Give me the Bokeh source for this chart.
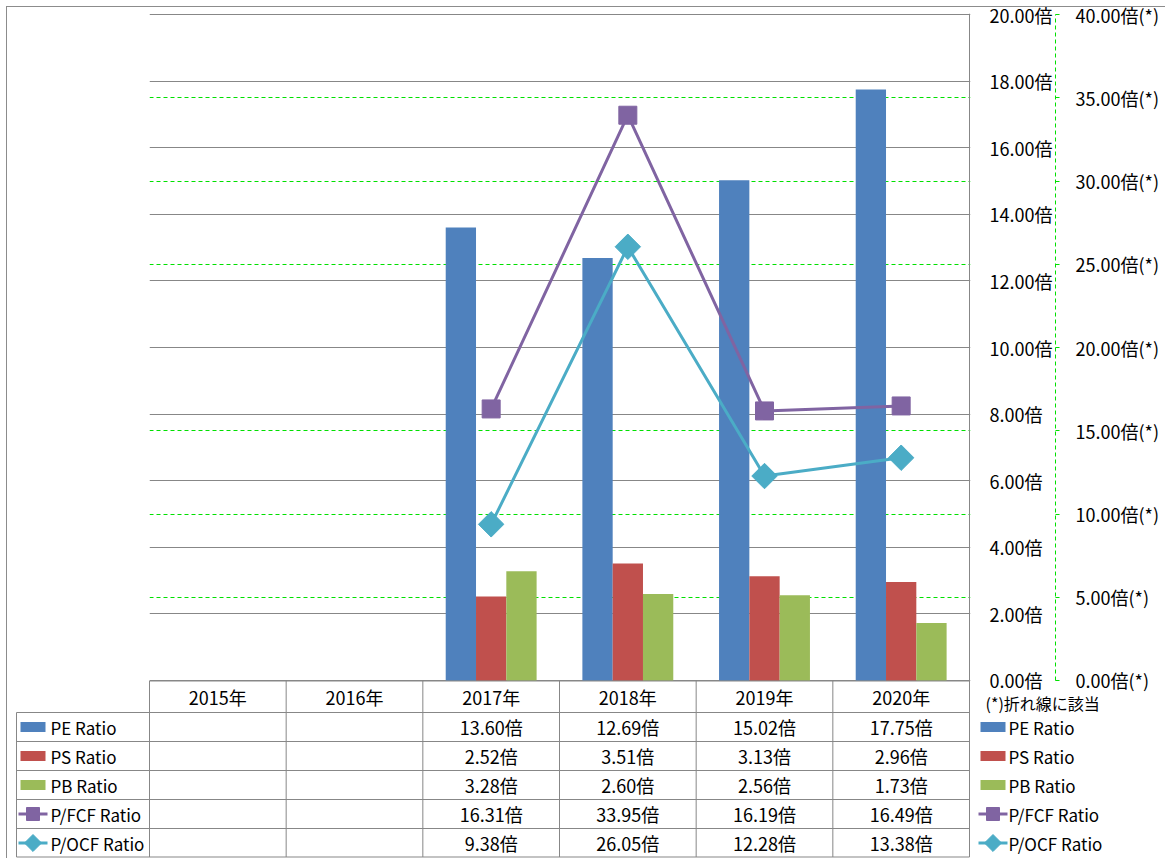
import math
from bokeh.plotting import figure
from bokeh.models import Range1d, LinearAxis, FixedTicker, PrintfTickFormatter, Grid, Div
from bokeh.core.properties import value
from bokeh.embed import file_html
from bokeh.resources import INLINE

# ---------------- data ----------------
years = ["2015年", "2016年", "2017年", "2018年", "2019年", "2020年"]
pe_ratio = [None, None, 13.60, 12.69, 15.02, 17.75]
ps_ratio = [None, None, 2.52, 3.51, 3.13, 2.96]
pb_ratio = [None, None, 3.28, 2.60, 2.56, 1.73]
pfcf_ratio = [None, None, 16.31, 33.95, 16.19, 16.49]
pocf_ratio = [None, None, 9.38, 26.05, 12.28, 13.38]
series_names = ["PE Ratio", "PS Ratio", "PB Ratio", "P/FCF Ratio", "P/OCF Ratio"]
series_colors = ["#4F81BD", "#C0504D", "#9BBB59", "#8064A2", "#4BACC6"]
left_ticks = [0, 2, 4, 6, 8, 10, 12, 14, 16, 18, 20]
right_ticks = [0, 5, 10, 15, 20, 25, 30, 35, 40]
right_grid = [5, 10, 15, 25, 30, 35]
note_text = "(*)折れ線に該当"

# ---------------- layout constants ----------------
FONTNAME = "Noto Sans CJK JP"
FONT = value(FONTNAME)
FS = "18px"        # numbers / headers / axis labels
FS_NAME = "17px"   # series names
GRAY = "#878787"
GREEN = "#00E000"
W = 1165
COL = 820 / 6.0          # px per category column
LEFT = 149               # plot area left (px)
PPU = 666 / 20.0         # px per left-axis unit
px = 1.0 / COL           # one pixel in x data units
TOP_H = 692
TABLE_TOP = 680
TABLE_H = 178
HEAD_H = 32
RH = 29

# ---------------- chart ----------------
p = figure(frame_width=821, frame_height=668,
           min_border_left=LEFT, min_border_top=13, min_border_bottom=TOP_H - 13 - 668,
           min_border_right=W - LEFT - 821,
           x_range=Range1d(0, 6 + px), y_range=Range1d(-1 / PPU, 20 + 1 / PPU),
           x_axis_location=None, y_axis_location=None,
           output_backend="svg", toolbar_location=None)
for g in list(p.center):
    if isinstance(g, Grid):
        g.visible = False
p.outline_line_color = None
p.border_fill_color = None
p.extra_y_ranges = {"r": Range1d(-2 / PPU, 40 + 2 / PPU)}
p.styles = {"position": "absolute", "left": "0px", "top": "0px"}

ax1 = LinearAxis(ticker=FixedTicker(ticks=left_ticks),
                 formatter=PrintfTickFormatter(format="%.2f倍"))
ax1.axis_line_color = None
ax1.major_tick_line_color = None
ax1.minor_tick_line_color = None
ax1.major_tick_out = 0
ax1.major_tick_in = 0
ax1.major_label_standoff = 19
ax1.major_label_text_font = FONTNAME
ax1.major_label_text_font_size = FS
ax1.major_label_text_color = "black"
p.add_layout(ax1, "right")

ax2 = LinearAxis(y_range_name="r", ticker=FixedTicker(ticks=right_ticks),
                 formatter=PrintfTickFormatter(format="%.2f倍(*)"), bounds=(0, 40))
ax2.axis_line_color = GREEN
ax2.axis_line_dash = "4 3"
ax2.major_tick_line_color = GREEN
ax2.major_tick_out = 4
ax2.major_tick_in = 0
ax2.minor_tick_line_color = None
ax2.major_label_standoff = 16
ax2.major_label_text_font = FONTNAME
ax2.major_label_text_font_size = FS
ax2.major_label_text_color = "black"
p.add_layout(ax2, "right")

g1 = Grid(dimension=1, ticker=FixedTicker(ticks=left_ticks), grid_line_color=GRAY)
g2 = Grid(dimension=1, y_range_name="r", ticker=FixedTicker(ticks=right_grid),
          grid_line_color=GREEN, grid_line_dash="4 3")
p.add_layout(g1)
p.add_layout(g2)

# bars (left axis)
bw = 30.3 / COL
for k, ser in enumerate([pe_ratio, ps_ratio, pb_ratio]):
    xs = [i + 0.5 + (k - 1) * bw for i, v in enumerate(ser) if v is not None]
    ts = [v for v in ser if v is not None]
    p.vbar(x=xs, top=ts, bottom=0, width=bw, fill_color=series_colors[k], line_color=None)

# lines (right axis)
for k, ser, ang in [(3, pfcf_ratio, 0.0), (4, pocf_ratio, math.pi / 4)]:
    xs = [i + 0.5 for i, v in enumerate(ser) if v is not None]
    ys = [v for v in ser if v is not None]
    p.line(xs, ys, y_range_name="r", line_color=series_colors[k], line_width=3)
    p.scatter(xs, ys, y_range_name="r", marker="square", size=18, angle=ang,
              fill_color=series_colors[k], line_color=series_colors[k])

# right border of the plot area
p.segment(x0=[6], y0=[0], x1=[6], y1=[20 + 1 / PPU], line_color=GRAY, line_width=1)

# ---------------- data table ----------------
q = figure(width=W, height=TABLE_H, min_border=0,
           x_range=Range1d(-LEFT / COL, (W - LEFT) / COL), y_range=Range1d(TABLE_H, 0),
           x_axis_location=None, y_axis_location=None,
           output_backend="svg", toolbar_location=None)
for g in list(q.center):
    if isinstance(g, Grid):
        g.visible = False
q.outline_line_color = None
q.border_fill_color = None
q.background_fill_color = None
q.styles = {"position": "absolute", "left": "0px", "top": f"{TABLE_TOP}px"}

xl = (16 - LEFT) / COL
nrows = len(series_names)
# header top line
q.segment(x0=[0], y0=[0.5], x1=[6], y1=[0.5], line_color=GRAY, line_width=1)
# row lines
rows_y = [HEAD_H + r * RH for r in range(nrows)] + [min(TABLE_H - 1.5, HEAD_H + nrows * RH)]
q.segment(x0=[xl] * len(rows_y), y0=rows_y, x1=[6] * len(rows_y), y1=rows_y,
          line_color=GRAY, line_width=1)
# column lines
vx = [float(i) for i in range(7)]
q.segment(x0=vx, y0=[0] * 7, x1=vx, y1=[rows_y[-1]] * 7, line_color=GRAY, line_width=1)
q.segment(x0=[xl], y0=[HEAD_H], x1=[xl], y1=[rows_y[-1]], line_color=GRAY, line_width=1)

# header labels
q.text(x=[i + 0.5 for i in range(len(years))], y=[HEAD_H / 2] * len(years), text=years,
       text_align="center", text_baseline="middle", text_font=FONT,
       text_font_size=FS, text_color="black")

# values
all_series = [pe_ratio, ps_ratio, pb_ratio, pfcf_ratio, pocf_ratio]
tx, ty, tt = [], [], []
for r, ser in enumerate(all_series):
    for i, v in enumerate(ser):
        if v is not None:
            tx.append(i + 0.5)
            ty.append(HEAD_H + (r + 0.5) * RH)
            tt.append(f"{v:.2f}倍")
q.text(x=tx, y=ty, text=tt, text_align="center", text_baseline="middle",
       text_font=FONT, text_font_size=FS, text_color="black")

# note
q.text(x=[(985 - LEFT) / COL], y=[22], text=[note_text], text_align="left",
       text_baseline="middle", text_font=FONT, text_font_size="16px", text_color="black")

# legend keys (left column and right column)
row_c = [HEAD_H + (r + 0.5) * RH for r in range(nrows)]
for sw_c, txt_x in [((32.5 - LEFT) / COL, (50 - LEFT) / COL),
                    ((992.5 - LEFT) / COL, (1008 - LEFT) / COL)]:
    for r, name in enumerate(series_names):
        col = series_colors[r]
        if r < 3:
            q.rect(x=[sw_c], y=[row_c[r]], width=25 * px, height=10,
                   fill_color=col, line_color=None)
        else:
            q.segment(x0=[sw_c - 14.5 * px], y0=[row_c[r]], x1=[sw_c + 14.5 * px], y1=[row_c[r]],
                      line_color=col, line_width=3)
            q.scatter(x=[sw_c], y=[row_c[r]], marker="square", size=13 if r == 3 else 12,
                      angle=0.0 if r == 3 else math.pi / 4, fill_color=col, line_color=col)
    q.text(x=[txt_x] * nrows, y=row_c, text=series_names,
           text_align="left", text_baseline="middle", text_font=FONT, text_font_size=FS_NAME,
           text_color="black")

frame_box = Div(text="", width=W - 3, height=858 - 3,
                styles={"position": "absolute", "left": "1px", "top": "1px",
                        "border": "1px solid #8c8c8c", "pointer-events": "none"})

open("out.html", "w").write(file_html([p, q, frame_box], INLINE))
